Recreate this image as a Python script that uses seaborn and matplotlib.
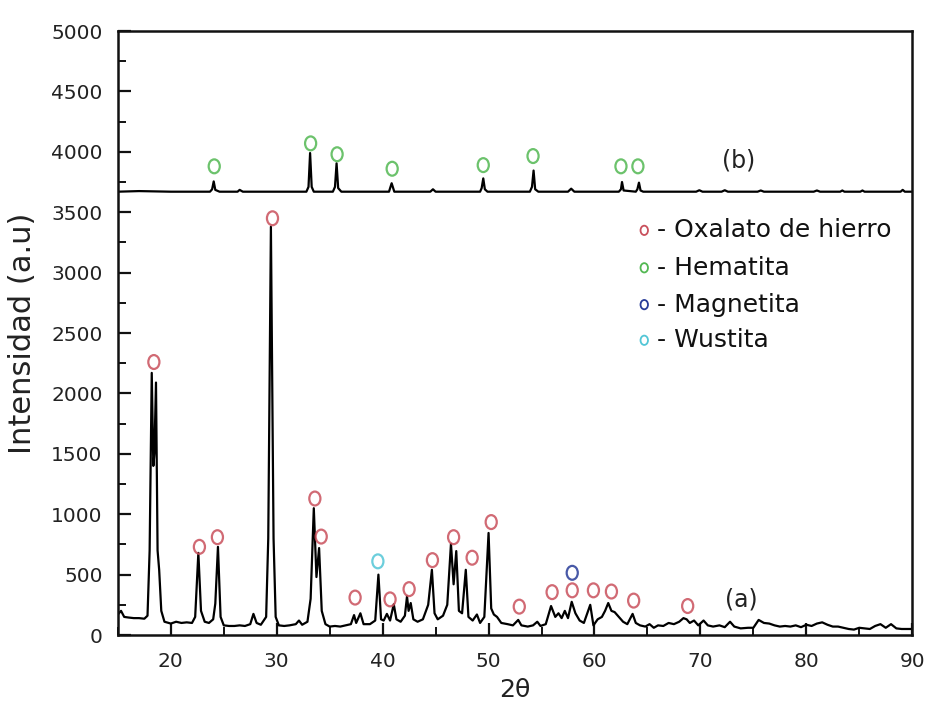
import numpy as np
import pandas as pd
import matplotlib
matplotlib.use("Agg")
import matplotlib.pyplot as plt
from matplotlib.markers import MarkerStyle
from matplotlib.transforms import Affine2D
from matplotlib.ticker import MultipleLocator
import seaborn as sns

# Diffractogram (a): 2-theta vs. intensity
a_2theta = [15.0, 15.3, 15.6, 16.0, 16.5, 17.0, 17.5, 17.8, 18.0, 18.2, 18.35, 18.45, 18.6, 18.75,
            18.9, 19.1, 19.4, 19.8, 20.0, 20.5, 21.0, 21.5, 22.0, 22.3, 22.6, 22.85, 23.2, 23.6,
            24.0, 24.2, 24.45, 24.7, 25.0, 25.5, 26.0, 26.5, 27.0, 27.5, 27.8, 28.1, 28.5, 29.0,
            29.2, 29.45, 29.7, 29.9, 30.2, 30.7, 31.2, 31.8, 32.1, 32.4, 32.9, 33.2, 33.5, 33.75,
            34.0, 34.25, 34.6, 35.0, 35.5, 36.0, 36.5, 37.0, 37.3, 37.5, 37.9, 38.2, 38.8, 39.3,
            39.6, 39.85, 40.1, 40.4, 40.7, 41.05, 41.3, 41.7, 42.1, 42.3, 42.45, 42.65, 42.9, 43.3,
            43.8, 44.3, 44.65, 44.9, 45.2, 45.7, 46.1, 46.45, 46.7, 46.95, 47.2, 47.5, 47.85, 48.1,
            48.5, 48.9, 49.2, 49.6, 50.0, 50.25, 50.5, 50.8, 51.2, 51.8, 52.3, 52.8, 53.1, 53.7,
            54.2, 54.6, 54.9, 55.4, 55.9, 56.3, 56.6, 56.9, 57.2, 57.5, 57.85, 58.2, 58.6, 59.0,
            59.6, 59.9, 60.3, 60.7, 61.0, 61.3, 61.6, 61.9, 62.3, 62.7, 63.1, 63.6, 63.9, 64.3,
            64.8, 65.2, 65.6, 66.0, 66.5, 67.0, 67.5, 68.0, 68.4, 68.7, 69.0, 69.4, 69.8, 70.3,
            70.7, 71.2, 71.8, 72.3, 72.8, 73.2, 73.8, 74.5, 75.0, 75.5, 76.0, 76.5, 77.0, 77.5,
            78.0, 78.5, 79.0, 79.5, 80.0, 80.5, 81.0, 81.5, 82.0, 82.5, 83.0, 83.5, 84.0, 84.5,
            85.0, 85.5, 86.0, 86.5, 87.0, 87.5, 88.0, 88.5, 89.0, 89.5, 90.0]
a_counts = [170, 200, 150, 145, 140, 140, 135, 160, 700, 2170, 1400, 1500, 2090, 700,
            540, 200, 110, 100, 95, 110, 100, 105, 100, 150, 680, 200, 110, 100,
            130, 260, 730, 150, 80, 75, 75, 80, 75, 90, 175, 100, 85, 150,
            800, 3380, 800, 150, 80, 75, 80, 90, 120, 85, 110, 300, 1050, 480,
            720, 200, 90, 70, 75, 70, 80, 90, 165, 100, 180, 90, 90, 120,
            500, 130, 120, 175, 120, 255, 130, 110, 160, 320, 200, 265, 130, 110,
            130, 250, 540, 180, 130, 160, 250, 755, 420, 695, 200, 180, 540, 150,
            120, 170, 100, 150, 845, 220, 170, 150, 100, 90, 80, 125, 80, 70,
            80, 110, 75, 90, 240, 150, 180, 140, 200, 140, 275, 180, 120, 100,
            250, 80, 130, 150, 200, 265, 200, 190, 150, 110, 90, 175, 100, 80,
            70, 90, 60, 80, 75, 100, 90, 110, 140, 130, 100, 120, 80, 120,
            80, 70, 80, 65, 110, 70, 55, 60, 60, 125, 100, 95, 80, 70,
            75, 70, 80, 65, 85, 75, 95, 105, 85, 70, 70, 60, 50, 45,
            60, 55, 50, 75, 90, 60, 90, 55, 50, 50, 50]

# Diffractogram (b): intensity above its own baseline
b_2theta = [15.0, 17.0, 20.0, 23.7, 23.9, 24.05, 24.2, 24.6, 26.3, 26.5, 26.8, 30.0, 32.8, 33.0,
            33.15, 33.3, 33.5, 35.3, 35.5, 35.65, 35.8, 36.1, 40.6, 40.85, 41.1, 44.5, 44.75, 45.0,
            49.2, 49.35, 49.5, 49.65, 49.9, 53.9, 54.1, 54.25, 54.4, 54.7, 57.5, 57.8, 58.1, 62.3,
            62.5, 62.6, 62.75, 63.9, 64.05, 64.2, 64.35, 64.6, 69.6, 69.9, 70.2, 72.0, 72.3, 72.6,
            75.4, 75.7, 76.0, 80.7, 81.0, 81.3, 83.2, 83.4, 83.6, 85.1, 85.3, 85.5, 88.9, 89.1,
            89.3, 90.0]
b_counts = [0, 5, 0, 0, 20, 85, 15, 0, 0, 15, 0, 0, 0, 40,
            320, 40, 0, 0, 40, 235, 30, 0, 0, 70, 0, 0, 20, 0,
            0, 30, 110, 20, 0, 0, 40, 175, 20, 0, 0, 25, 0, 0,
            20, 80, 10, 0, 20, 75, 10, 0, 0, 12, 0, 0, 12, 0,
            0, 10, 0, 0, 10, 0, 0, 10, 0, 0, 10, 0, 0, 15,
            0, 0]
B_OFFSET = 3670

# Phase identification marks (a)
oxalato_x = [18.4, 22.7, 24.4, 29.6, 33.6, 34.2, 37.4, 40.7, 42.5, 44.7, 46.7, 48.45, 50.25,
             52.9, 56.0, 57.9, 59.9, 61.6, 63.7, 68.8]
oxalato_y = [2260, 730, 810, 3450, 1130, 815, 310, 295, 380, 620, 810, 640, 935,
             235, 355, 370, 370, 360, 285, 240]
magnetita_x = [57.9]
magnetita_y = [515]
wustita_x = [39.55]
wustita_y = [610]
# Hematite marks over (b)
hematita_x = [24.1, 33.2, 35.7, 40.9, 49.5, 54.2, 62.5, 64.1]
hematita_y = [3880, 4070, 3980, 3860, 3890, 3965, 3880, 3880]

phase_names = ["Oxalato de hierro", "Hematita", "Magnetita", "Wustita"]
phase_colors = ["#c9505c", "#52b852", "#283c98", "#52c6d6"]

sns.set_theme(style="ticks")
plt.rcParams["font.family"] = ["DejaVu Sans"]

fig = plt.figure(figsize=(9.28, 7.02), dpi=100)
ax = fig.add_axes([0.127, 0.0954, 0.856, 0.8604])

df_a = pd.DataFrame({"2theta": a_2theta, "I": a_counts})
df_b = pd.DataFrame({"2theta": b_2theta, "I": np.array(b_counts) + B_OFFSET})
sns.lineplot(data=df_a, x="2theta", y="I", color="black", lw=1.6, ax=ax, estimator=None)
sns.lineplot(data=df_b, x="2theta", y="I", color="black", lw=1.6, ax=ax, estimator=None)

mk = MarkerStyle("o", transform=Affine2D().scale(0.8, 1.0))
def marks(xs, ys, color):
    ax.scatter(xs, ys, s=100, marker=mk, facecolors="none", edgecolors=color,
               linewidths=1.6, alpha=0.85, zorder=3)

marks(oxalato_x, oxalato_y, phase_colors[0])
marks(hematita_x, hematita_y, phase_colors[1])
marks(magnetita_x, magnetita_y, phase_colors[2])
marks(wustita_x, wustita_y, phase_colors[3])

# Key of phases
key_y = [3350, 3040, 2735, 2440]
for name, col, ky in zip(phase_names, phase_colors, key_y):
    ax.scatter([64.7], [ky], s=45, marker=mk, facecolors="none", edgecolors=col,
               linewidths=1.3, zorder=3)
    ax.text(65.9, ky, "- " + name, fontsize=18, va="center", ha="left", color="#111111")

ax.text(73.6, 3930, "(b)", fontsize=17, ha="center", va="center", color="#222222")
ax.text(73.9, 290, "(a)", fontsize=17, ha="center", va="center", color="#222222")

ax.set_xlim(15, 90)
ax.set_ylim(0, 5000)
ax.xaxis.set_major_locator(MultipleLocator(10))
ax.xaxis.set_minor_locator(MultipleLocator(5))
ax.yaxis.set_major_locator(MultipleLocator(500))
ax.yaxis.set_minor_locator(MultipleLocator(250))
ax.tick_params(axis="both", which="major", direction="in", length=9, width=1.6,
               labelsize=14.5, colors="#111111")
ax.tick_params(axis="y", which="major", pad=11)
ax.tick_params(axis="x", which="major", pad=12)
ax.tick_params(axis="both", which="minor", direction="in", length=6, width=1.4, colors="#111111")
ax.tick_params(top=False, right=False, which="both")
ax.tick_params(axis="both", labelcolor="#222222")
ax.set_xlabel("2θ", fontsize=18, labelpad=5, color="#222222")
ax.set_ylabel("Intensidad (a.u)", fontsize=22, labelpad=10, color="#222222")
for sp in ax.spines.values():
    sp.set_visible(True)
    sp.set_linewidth(1.8)
    sp.set_color("#111111")

fig.savefig("out.png", dpi=100)
